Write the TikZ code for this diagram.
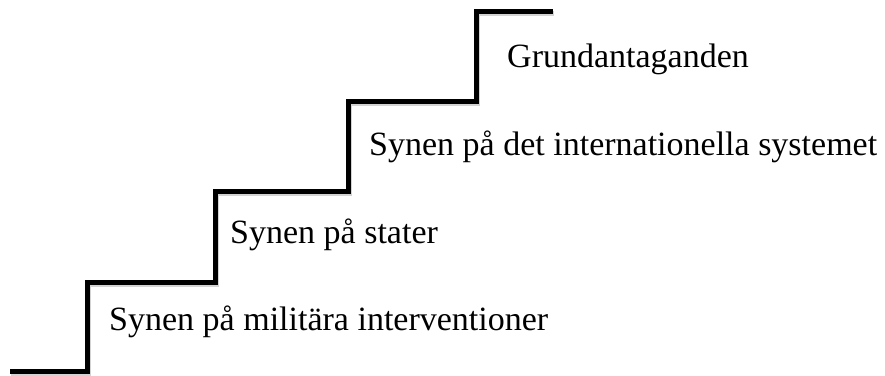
\documentclass[tikz,border=0pt]{standalone}
\usepackage{fontspec}
\setmainfont{Liberation Serif}
\usetikzlibrary{positioning}

\begin{document}
\begin{tikzpicture}[
        x=1pt, y=-1pt,
        stair/.style = {
            draw,
            line width = 5pt,
            line join = miter
        },
        stairshadow/.style = {
            stair,
            gray,
            opacity = 0.35
        },
        steptext/.style = {
            anchor = base west,
            inner sep = 0pt,
            font = \fontsize{34}{40}\selectfont
        }
        ]
        \useasboundingbox (0,0) rectangle (885,375);
%
        \coordinate (s0) at (10,371);
        \coordinate (s1) at (87,371);
        \coordinate (s2) at (87,282);
        \coordinate (s3) at (215,282);
        \coordinate (s4) at (215,191);
        \coordinate (s5) at (348,191);
        \coordinate (s6) at (348,101);
        \coordinate (s7) at (476,101);
        \coordinate (s8) at (476,11);
        \coordinate (s9) at (553,11);
%
        \draw[stairshadow, transform canvas={xshift=1pt, yshift=-2pt}] (s0) -- (s1) -- (s2) -- (s3) -- (s4) -- (s5) -- (s6) -- (s7) -- (s8) -- (s9);
        \draw[stair] (s0) -- (s1) -- (s2) -- (s3) -- (s4) -- (s5) -- (s6) -- (s7) -- (s8) -- (s9);
%
        \node[steptext] (grund) at (507,67) {Grundantaganden};
        \node[steptext] (system) at (369,155) {Synen på det internationella systemet};
        \node[steptext] (stater) at (230,243) {Synen på stater};
        \node[steptext] (militar) at (109,330) {Synen på militära interventioner};
%
\end{tikzpicture}
\end{document}
